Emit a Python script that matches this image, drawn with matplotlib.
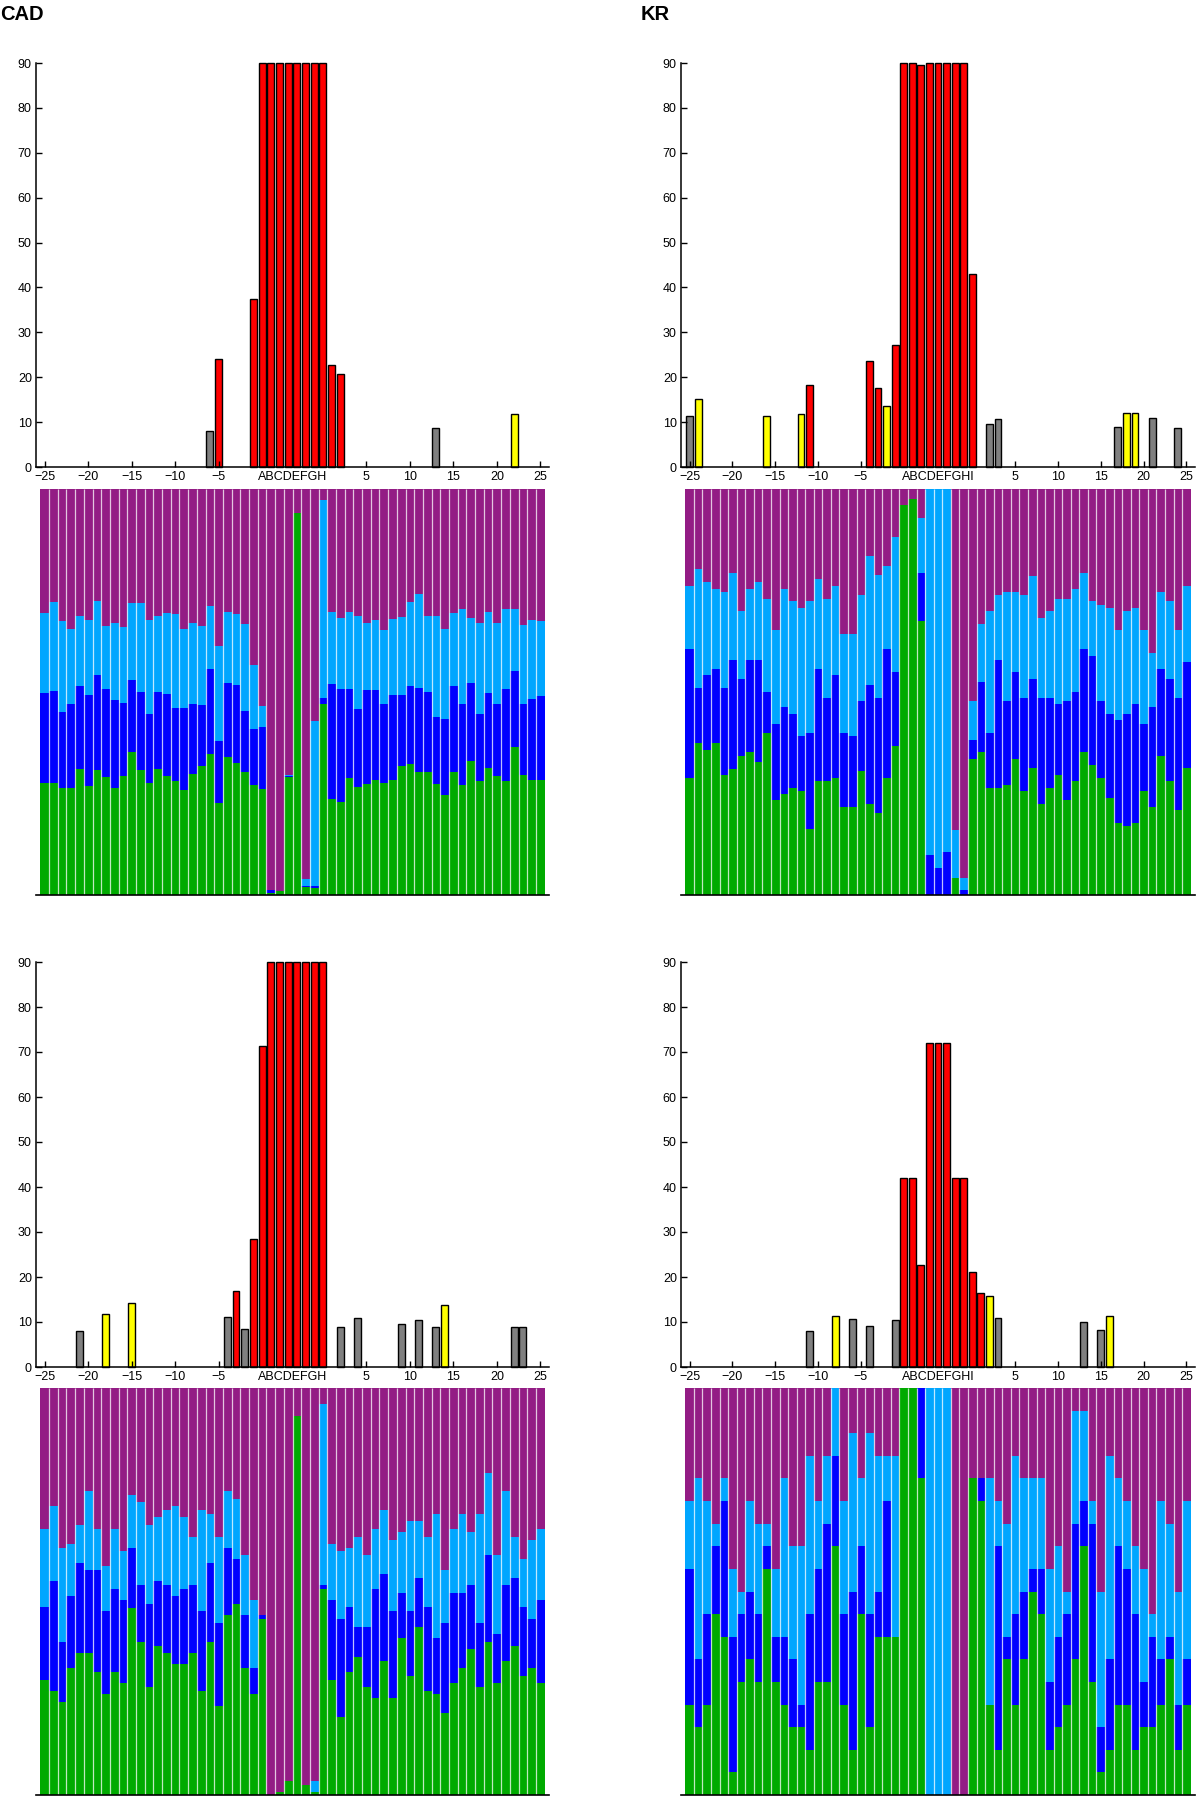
import matplotlib.pyplot as plt
import numpy as np

plt.rcParams['font.family'] = ['Liberation Sans', 'DejaVu Sans']

# ---------------- data ----------------
# upper bar charts: x label (int offset or letter), height, colour code
cad1_letters = 'ABCDEFGH'
cad1_labels = [-6, -5, -1, 'A', 'B', 'C', 'D', 'E', 'F', 'G', 'H', 1, 2, 13, 22]
cad1_heights = [8.0, 24.0, 37.5, 90, 90, 90, 90, 90, 90, 90, 90, 22.8, 20.8, 8.7, 11.7]
cad1_colors = 'grrrrrrrrrrrrgy'

kr1_letters = 'ABCDEFGHI'
kr1_labels = [-25, -24, -16, -12, -11, -4, -3, -2, -1,
              'A', 'B', 'C', 'D', 'E', 'F', 'G', 'H', 'I', 2, 3, 17, 18, 19, 21, 24]
kr1_heights = [11.3, 15.2, 11.4, 11.9, 18.3, 23.6, 17.7, 13.7, 27.2,
               90, 90, 89.5, 90, 90, 90, 90, 90, 43.0, 9.5, 10.7, 8.9, 12.1, 12.1, 11.0, 8.6]
kr1_colors = 'gyyyrrryr' + 'rrrrrrrrr' + 'gggyygg'

cad2_letters = 'ABCDEFGH'
cad2_labels = [-21, -18, -15, -4, -3, -2, -1,
               'A', 'B', 'C', 'D', 'E', 'F', 'G', 'H', 2, 4, 9, 11, 13, 14, 22, 23]
cad2_heights = [7.9, 11.8, 14.3, 11.1, 16.8, 8.4, 28.5,
                71.3, 90, 90, 90, 90, 90, 90, 90, 9.0, 10.8, 9.5, 10.5, 8.9, 13.8, 8.9, 8.9]
cad2_colors = 'gyygrgr' + 'rrrrrrrr' + 'gggggygg'

kr2_letters = 'ABCDEFGHI'
kr2_labels = [-11, -8, -6, -4, -1, 'A', 'B', 'C', 'D', 'E', 'F', 'G', 'H', 'I', 1, 2, 3, 13, 15, 16]
kr2_heights = [8.0, 11.3, 10.7, 9.1, 10.5, 42, 42, 22.7, 72, 72, 72, 42, 42, 21.2,
               16.5, 15.7, 11.0, 10.1, 8.2, 11.3]
kr2_colors = 'gyggg' + 'rrrrrrrrr' + 'rygggy'

# lower stacked charts: cumulative tops (%) of green, dark blue, light blue
cad1_green = [27.5, 27.7, 26.4, 26.4, 31.0, 26.8, 30.8, 29.0, 26.3, 29.3, 35.1, 30.9, 27.7, 31.0, 29.3,
              28.2, 25.9, 29.7, 31.8, 34.7, 22.7, 34.1, 32.5, 30.4, 27.1, 26.2, 0.5, 1.0, 29.0, 94.0,
              1.9, 1.8, 47.1, 23.6, 23.0, 28.9, 26.7, 27.3, 28.3, 27.7, 28.3, 31.8, 32.3, 30.2, 30.2,
              27.3, 24.6, 30.4, 27.1, 33.0, 28.2, 31.4, 29.3, 28.2, 36.4, 29.5, 28.3, 28.3]
cad1_blue = [49.7, 50.3, 45.0, 47.1, 51.6, 49.3, 54.2, 50.7, 48.1, 47.4, 53.0, 49.9, 44.7, 49.9, 49.5,
             46.0, 46.1, 47.1, 46.8, 55.6, 38.0, 52.2, 51.8, 45.3, 40.8, 41.5, 1.2, 1.0, 29.2, 94.0,
             2.2, 2.1, 48.6, 52.0, 50.7, 50.7, 45.7, 50.4, 50.4, 47.0, 49.3, 49.3, 51.6, 50.9, 50.1,
             43.9, 43.3, 51.6, 47.0, 52.2, 44.6, 49.7, 47.1, 50.7, 55.1, 47.1, 48.3, 49.0]
cad1_light = [69.5, 72.2, 67.6, 65.5, 68.7, 67.8, 72.5, 66.2, 66.9, 65.9, 71.8, 71.8, 67.7, 68.6, 69.4,
              69.2, 65.5, 66.9, 66.3, 71.3, 61.3, 69.7, 69.2, 66.7, 56.7, 46.6, 1.2, 1.0, 29.6, 94.0,
              3.9, 42.9, 97.3, 69.7, 68.3, 69.8, 68.6, 66.9, 67.7, 65.3, 68.1, 68.5, 72.1, 74.1, 68.7,
              68.7, 65.5, 69.5, 70.4, 68.3, 67.1, 69.7, 67.1, 70.4, 70.4, 66.5, 67.7, 67.6]

kr1_green = [28.8, 37.4, 35.8, 37.4, 29.6, 31.1, 34.3, 35.1, 32.8, 39.9, 23.3, 24.9, 26.4, 25.7, 16.2,
             28.0, 28.0, 28.8, 21.7, 21.7, 30.5, 22.5, 20.2, 28.8, 36.6, 96.0, 97.5, 67.5, 0.0, 0.0,
             0.0, 4.3, 0.0, 33.6, 35.1, 26.4, 26.4, 27.2, 33.6, 25.7, 31.2, 22.5, 26.4, 29.6, 23.3,
             28.0, 35.1, 32.0, 28.8, 24.0, 17.7, 17.0, 17.7, 25.7, 21.7, 34.3, 28.0, 20.9, 31.2]
kr1_blue = [60.5, 50.9, 54.2, 55.7, 50.9, 58.0, 53.3, 58.0, 58.0, 50.1, 42.2, 46.2, 44.6, 39.1, 39.9,
            55.7, 48.6, 54.2, 39.9, 39.1, 47.7, 51.7, 48.6, 60.5, 54.9, 96.0, 97.5, 79.4, 9.9, 6.7,
            10.7, 4.3, 1.2, 38.3, 52.5, 39.9, 58.0, 47.7, 54.9, 48.6, 53.3, 48.6, 48.6, 47.0, 47.7,
            50.1, 60.5, 58.8, 47.7, 44.6, 43.0, 44.6, 47.0, 42.2, 46.2, 55.7, 53.3, 48.6, 57.3]
kr1_light = [76.1, 80.2, 77.0, 75.3, 74.6, 79.4, 69.9, 75.3, 77.0, 73.0, 65.2, 75.3, 72.3, 70.6, 72.3,
             77.8, 73.0, 76.2, 64.4, 64.4, 73.8, 83.4, 78.7, 81.0, 88.1, 96.0, 97.5, 92.8, 100, 100,
             100, 16.0, 4.3, 47.7, 66.7, 69.9, 73.8, 74.6, 74.6, 73.8, 78.6, 68.3, 69.9, 73.0, 73.0,
             75.3, 79.3, 72.3, 71.4, 70.6, 65.2, 69.9, 70.6, 65.2, 59.7, 74.6, 72.3, 65.2, 76.1]

cad2_green = [28.3, 25.6, 22.8, 31.1, 34.8, 34.8, 30.3, 24.7, 30.3, 27.4, 46.0, 37.7, 26.5, 36.7, 34.8,
              32.1, 32.1, 34.8, 25.6, 37.7, 21.9, 44.2, 46.9, 31.1, 24.7, 43.3, 0.0, 0.7, 3.4, 93.2,
              2.5, 0.7, 50.7, 28.3, 19.1, 30.3, 33.9, 26.5, 23.8, 33.0, 23.8, 38.6, 29.3, 41.4, 25.6,
              24.7, 20.1, 27.4, 31.1, 35.8, 26.5, 37.7, 27.4, 33.0, 36.7, 29.3, 31.1, 27.4]
cad2_blue = [46.1, 52.5, 37.7, 48.8, 57.1, 55.3, 55.3, 45.1, 50.7, 47.9, 60.8, 51.6, 46.9, 52.5, 51.6,
             48.8, 50.7, 51.6, 45.1, 57.1, 42.3, 60.8, 58.0, 44.2, 31.1, 44.2, 0.0, 0.7, 3.4, 93.2,
             2.5, 0.7, 51.6, 47.9, 43.3, 46.1, 41.4, 41.4, 50.7, 54.4, 45.1, 49.7, 45.1, 53.4, 46.1,
             38.6, 42.3, 49.7, 49.7, 51.6, 42.3, 58.9, 39.6, 51.6, 53.4, 46.1, 43.3, 47.9]
cad2_light = [65.4, 71.0, 60.8, 61.7, 66.3, 74.6, 65.4, 56.2, 65.4, 59.9, 73.7, 71.9, 66.3, 68.2, 70.0,
              70.9, 68.2, 63.5, 70.0, 69.1, 63.5, 74.6, 72.8, 58.9, 47.9, 44.2, 0.0, 0.7, 3.4, 93.2,
              2.5, 3.4, 96.1, 61.7, 59.9, 60.8, 63.5, 58.9, 65.4, 70.0, 62.6, 64.5, 67.2, 67.2, 63.5,
              69.1, 55.3, 65.4, 69.1, 64.5, 69.1, 79.2, 58.9, 74.6, 63.5, 58.0, 62.6, 65.4]

# bottom-right panel reads as counts out of 18
kr2_green = [4, 3, 4, 8, 7, 1, 5, 6, 5, 10, 5, 4, 3, 3, 2, 5, 5, 11, 4, 2, 8, 3, 7, 7, 7,
             18, 18, 14, 0, 0, 0, 0, 0, 14, 13, 4, 2, 6, 4, 6, 9, 8, 2, 3, 4, 6, 11, 5, 1,
             2, 4, 4, 2, 3, 3, 4, 6, 2, 4]
kr2_blue = [10, 6, 8, 11, 13, 7, 8, 9, 8, 11, 7, 7, 6, 4, 8, 10, 12, 15, 8, 9, 11, 8, 9, 13, 7,
            18, 18, 18, 0, 0, 0, 0, 0, 14, 14, 4, 11, 7, 8, 9, 10, 10, 5, 7, 8, 12, 13, 12, 3,
            6, 11, 10, 8, 5, 7, 6, 7, 4, 6]
kr2_light = [13, 14, 13, 12, 14, 10, 9, 13, 12, 12, 10, 14, 11, 11, 15, 13, 15, 18, 13, 16, 14, 16, 15, 15, 15,
             18, 18, 18, 18, 18, 18, 0, 0, 14, 14, 14, 13, 12, 15, 14, 14, 14, 10, 11, 9, 17, 17, 13, 9,
             15, 14, 13, 11, 10, 8, 13, 12, 9, 13]

BAR_COLORS = {'r': '#ff0000', 'y': '#ffff00', 'g': '#808080'}
GREEN = '#00aa00'
BLUE = '#0000ff'
LBLUE = '#00a6ff'
PURPLE = '#931c85'

W, H = 1200, 1796
fig = plt.figure(figsize=(W / 100, H / 100), dpi=100)


def px_axes(x0, y0, x1, y1):
    return fig.add_axes([x0 / W, 1 - y1 / H, (x1 - x0) / W, (y1 - y0) / H])


def position(lab, letters):
    nl = len(letters)
    if isinstance(lab, str):
        return 25 + letters.index(lab)
    if lab < 0:
        return lab + 25
    return 24 + nl + lab


def draw_bars(ax, letters, labels, heights, colors):
    n = 50 + len(letters)
    xs = [position(l, letters) for l in labels]
    bars = ax.bar(xs, heights, width=0.8, color=[BAR_COLORS[c] for c in colors],
                  edgecolor='black', linewidth=1.0)
    for b in bars:
        b.set_clip_on(False)
    ax.set_xlim(-1, n)
    ax.set_ylim(0, 90)
    for s in ('top', 'right'):
        ax.spines[s].set_visible(False)
    ax.spines['left'].set_linewidth(1.1)
    ax.spines['bottom'].set_linewidth(1.1)
    nums = [-25, -20, -15, -10, -5, 5, 10, 15, 20, 25]
    ax.set_xticks([position(v, letters) for v in nums])
    ax.set_xticklabels([str(v).replace('-', '\u2212') for v in nums])
    # the letter positions share one label written as a word
    ax.set_xticks([25 + (len(letters) - 1) / 2], minor=True)
    ax.set_xticklabels([letters], minor=True)
    ax.set_yticks(range(0, 91, 10))
    ax.tick_params(axis='both', which='major', direction='in', length=4, width=1,
                   labelsize=9, pad=3)
    ax.tick_params(axis='x', which='minor', direction='in', length=0, labelsize=9, pad=3)


def draw_stack(ax, green, blue, light, scale=1.0):
    g = np.array(green, dtype=float) * scale
    b = np.array(blue, dtype=float) * scale
    lb = np.array(light, dtype=float) * scale
    n = len(g)
    x = np.arange(n)
    ax.bar(x, g, width=1.0, color=GREEN, linewidth=0)
    ax.bar(x, b - g, bottom=g, width=1.0, color=BLUE, linewidth=0)
    ax.bar(x, lb - b, bottom=b, width=1.0, color=LBLUE, linewidth=0)
    ax.bar(x, 100 - lb, bottom=lb, width=1.0, color=PURPLE, linewidth=0)
    ax.vlines(np.arange(n - 1) + 0.5, 0, 100, color='white', linewidth=0.9, alpha=0.75)
    ax.set_xlim(-1, n)
    ax.set_ylim(0, 100)
    for s in ('top', 'right', 'left'):
        ax.spines[s].set_visible(False)
    ax.spines['bottom'].set_linewidth(1.2)
    ax.set_xticks([])
    ax.set_yticks([])


LX = (36, 549)
RX = (681, 1195)
TOP_BAR = (63, 467)
TOP_STACK = (489, 895)
BOT_BAR = (962, 1367)
BOT_STACK = (1388, 1795)

ax = px_axes(LX[0], TOP_BAR[0], LX[1], TOP_BAR[1])
draw_bars(ax, cad1_letters, cad1_labels, cad1_heights, cad1_colors)
ax = px_axes(LX[0], TOP_STACK[0], LX[1], TOP_STACK[1])
draw_stack(ax, cad1_green, cad1_blue, cad1_light)

ax = px_axes(RX[0], TOP_BAR[0], RX[1], TOP_BAR[1])
draw_bars(ax, kr1_letters, kr1_labels, kr1_heights, kr1_colors)
ax = px_axes(RX[0], TOP_STACK[0], RX[1], TOP_STACK[1])
draw_stack(ax, kr1_green, kr1_blue, kr1_light)

ax = px_axes(LX[0], BOT_BAR[0], LX[1], BOT_BAR[1])
draw_bars(ax, cad2_letters, cad2_labels, cad2_heights, cad2_colors)
ax = px_axes(LX[0], BOT_STACK[0], LX[1], BOT_STACK[1])
draw_stack(ax, cad2_green, cad2_blue, cad2_light)

ax = px_axes(RX[0], BOT_BAR[0], RX[1], BOT_BAR[1])
draw_bars(ax, kr2_letters, kr2_labels, kr2_heights, kr2_colors)
ax = px_axes(RX[0], BOT_STACK[0], RX[1], BOT_STACK[1])
draw_stack(ax, kr2_green, kr2_blue, kr2_light, scale=100 / 18)

fig.text(0.0, 1 - 14 / H, 'CAD', fontsize=14.5, fontweight='bold', va='center', ha='left')
fig.text(641 / W, 1 - 14 / H, 'KR', fontsize=14.5, fontweight='bold', va='center', ha='left')

fig.savefig('out.png', dpi=100)
